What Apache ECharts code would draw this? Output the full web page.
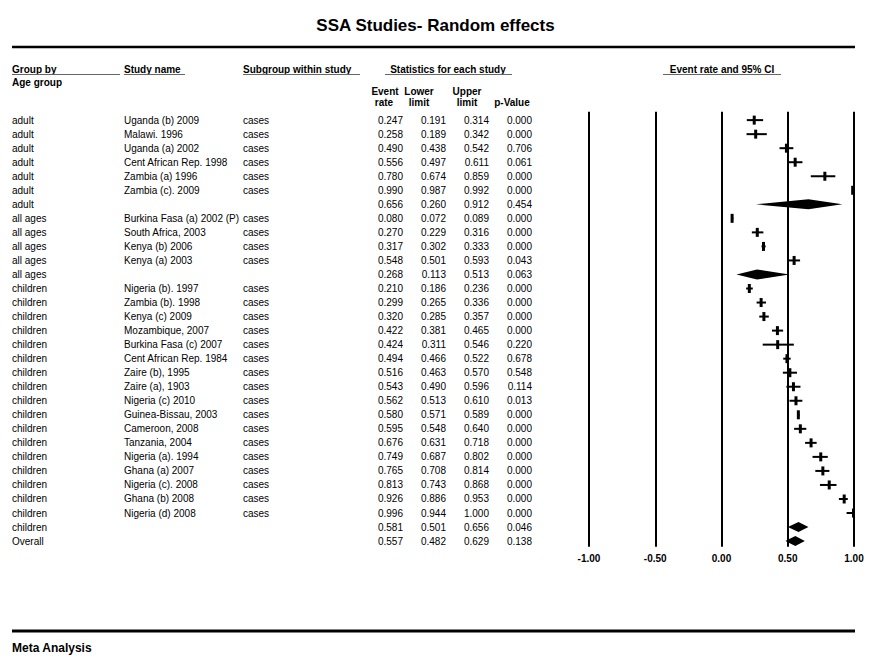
<!DOCTYPE html>
<html>
<head>
<meta charset="utf-8">
<script src="https://cdn.jsdelivr.net/npm/echarts@6/dist/echarts.min.js"></script>
<style>
  html, body { margin: 0; padding: 0; background: #fff; }
  #chart { width: 871px; height: 658px; }
</style>
</head>
<body>
<div id="chart"></div>
<script>
// table rows, top to bottom (empty study name = subgroup / overall summary)
const groups = ['adult', 'adult', 'adult', 'adult', 'adult', 'adult', 'adult',
  'all ages', 'all ages', 'all ages', 'all ages', 'all ages',
  'children', 'children', 'children', 'children', 'children', 'children', 'children',
  'children', 'children', 'children', 'children', 'children', 'children', 'children',
  'children', 'children', 'children', 'children', 'Overall'];
const studies = ['Uganda (b) 2009', 'Malawi. 1996', 'Uganda (a) 2002', 'Cent African Rep. 1998',
  'Zambia (a) 1996', 'Zambia (c). 2009', '',
  'Burkina Fasa (a) 2002 (P)', 'South Africa, 2003', 'Kenya (b) 2006', 'Kenya (a) 2003', '',
  'Nigeria (b). 1997', 'Zambia (b). 1998', 'Kenya (c) 2009', 'Mozambique, 2007',
  'Burkina Fasa (c) 2007', 'Cent African Rep. 1984', 'Zaire (b), 1995', 'Zaire (a), 1903',
  'Nigeria (c) 2010', 'Guinea-Bissau, 2003', 'Cameroon, 2008', 'Tanzania, 2004',
  'Nigeria (a). 1994', 'Ghana (a) 2007', 'Nigeria (c). 2008', 'Ghana (b) 2008',
  'Nigeria (d) 2008', '', ''];
const eventRates = [0.247, 0.258, 0.490, 0.556, 0.780, 0.990, 0.656,
  0.080, 0.270, 0.317, 0.548, 0.268,
  0.210, 0.299, 0.320, 0.422, 0.424, 0.494, 0.516, 0.543, 0.562, 0.580, 0.595,
  0.676, 0.749, 0.765, 0.813, 0.926, 0.996, 0.581, 0.557];
const lowerLimits = [0.191, 0.189, 0.438, 0.497, 0.674, 0.987, 0.260,
  0.072, 0.229, 0.302, 0.501, 0.113,
  0.186, 0.265, 0.285, 0.381, 0.311, 0.466, 0.463, 0.490, 0.513, 0.571, 0.548,
  0.631, 0.687, 0.708, 0.743, 0.886, 0.944, 0.501, 0.482];
const upperLimits = [0.314, 0.342, 0.542, 0.611, 0.859, 0.992, 0.912,
  0.089, 0.316, 0.333, 0.593, 0.513,
  0.236, 0.336, 0.357, 0.465, 0.546, 0.522, 0.570, 0.596, 0.610, 0.589, 0.640,
  0.718, 0.802, 0.814, 0.868, 0.953, 1.000, 0.656, 0.629];
const pValues = [0.000, 0.000, 0.706, 0.061, 0.000, 0.000, 0.454,
  0.000, 0.000, 0.000, 0.043, 0.063,
  0.000, 0.000, 0.000, 0.000, 0.220, 0.678, 0.548, 0.114, 0.013, 0.000, 0.000,
  0.000, 0.000, 0.000, 0.000, 0.000, 0.000, 0.046, 0.138];

const FONT = '"Liberation Sans", Arial, sans-serif';

const studyRows = [];
const summaryRows = [];
studies.forEach((s, i) => {
  const row = [i, eventRates[i], lowerLimits[i], upperLimits[i]];
  if (s) studyRows.push(row); else summaryRows.push(row);
});

const chart = echarts.init(document.getElementById('chart'), null, { renderer: 'svg' });

function txt(text, x, y, opts) {
  return {
    type: 'text', x: x, y: y, silent: true,
    style: Object.assign({
      text: text, fill: '#000', font: 'bold 10px ' + FONT,
      align: 'left', verticalAlign: 'middle'
    }, opts || {})
  };
}
function rule(x1, x2, y, w, c) {
  return { type: 'line', silent: true, shape: { x1: x1, y1: y, x2: x2, y2: y },
    style: { stroke: c || '#000', lineWidth: w } };
}

const option = {
  animation: false,
  backgroundColor: '#fff',
  title: {
    text: 'SSA Studies- Random effects',
    left: 'center',
    top: 12,
    textStyle: { fontFamily: FONT, fontSize: 17, fontWeight: 'bold', color: '#000' }
  },
  grid: { left: 589, right: 17, top: 111.7, bottom: 111.3 },
  xAxis: {
    type: 'value', min: -1, max: 1, interval: 0.5,
    axisLine: { show: false },
    axisTick: { show: false },
    axisLabel: {
      margin: 7, color: '#000', fontFamily: FONT, fontSize: 10, fontWeight: 'bold',
      formatter: v => v.toFixed(2)
    },
    splitLine: { show: true, lineStyle: { color: '#000', width: 2 } }
  },
  yAxis: { type: 'value', min: -0.6, max: 30.4, inverse: true, show: false },
  graphic: [
    rule(12, 855, 47, 2.5),
    rule(12, 855, 631, 3),
    txt('Group by', 12, 69),
    txt('Age group', 12, 82),
    rule(12, 120, 74.5, 1, '#666'),
    txt('Study name', 124, 69),
    rule(124, 185, 74.5, 1, '#666'),
    txt('Subgroup within study', 243, 69),
    rule(243, 360, 74.5, 1, '#666'),
    txt('Statistics for each study', 448, 69, { align: 'center' }),
    rule(385, 512, 74.5, 1, '#666'),
    txt('Event rate and 95% CI', 722, 69, { align: 'center' }),
    rule(663, 781, 74.5, 1, '#666'),
    txt('Event', 385, 91, { align: 'center' }),
    txt('rate', 384, 102, { align: 'center' }),
    txt('Lower', 419, 91, { align: 'center' }),
    txt('limit', 419, 102, { align: 'center' }),
    txt('Upper', 467, 91, { align: 'center' }),
    txt('limit', 467, 102, { align: 'center' }),
    txt('p-Value', 512, 102, { align: 'center' }),
    txt('Meta Analysis', 12, 648, { font: 'bold 12px ' + FONT })
  ],
  series: [
    {
      // table text, one line per row, aligned to the plot rows
      type: 'custom',
      data: groups.map((g, i) => [0, i]),
      encode: { x: 0, y: 1 },
      clip: false,
      silent: true,
      renderItem: (params, api) => {
        const i = api.value(1);
        const y = api.coord([0, i])[1];
        const f = '10px ' + FONT;
        const cell = (t, x, align) => ({
          type: 'text', x: x, y: y,
          style: { text: t, fill: '#000', font: f, align: align || 'left', verticalAlign: 'middle' }
        });
        const children = [
          cell(groups[i], 12),
          cell(eventRates[i].toFixed(3), 403, 'right'),
          cell(lowerLimits[i].toFixed(3), 446, 'right'),
          cell(upperLimits[i].toFixed(3), 489, 'right'),
          cell(pValues[i].toFixed(3), 532, 'right')
        ];
        if (studies[i]) {
          children.push(cell(studies[i], 124));
          children.push(cell('cases', 243));
        }
        return { type: 'group', children: children };
      }
    },
    {
      // study estimates: CI line + marker
      type: 'custom',
      data: studyRows,
      encode: { x: 1, y: 0 },
      clip: false,
      renderItem: (params, api) => {
        const i = api.value(0);
        const p = api.coord([api.value(1), i]);
        const lo = api.coord([api.value(2), i]);
        const hi = api.coord([api.value(3), i]);
        return {
          type: 'group',
          children: [
            { type: 'line', shape: { x1: lo[0], y1: lo[1], x2: hi[0], y2: hi[1] },
              style: { stroke: '#000', lineWidth: 2 } },
            { type: 'rect', shape: { x: p[0] - 1.5, y: p[1] - 4.5, width: 3, height: 9 },
              style: { fill: '#000' } }
          ]
        };
      }
    },
    {
      // summary diamonds
      type: 'custom',
      data: summaryRows,
      encode: { x: 1, y: 0 },
      clip: false,
      renderItem: (params, api) => {
        const i = api.value(0);
        const p = api.coord([api.value(1), i]);
        const lo = api.coord([api.value(2), i]);
        const hi = api.coord([api.value(3), i]);
        return {
          type: 'polygon',
          shape: { points: [[lo[0], p[1]], [p[0], p[1] - 5], [hi[0], p[1]], [p[0], p[1] + 5]] },
          style: { fill: '#000' }
        };
      }
    }
  ]
};

chart.setOption(option);
</script>
</body>
</html>
